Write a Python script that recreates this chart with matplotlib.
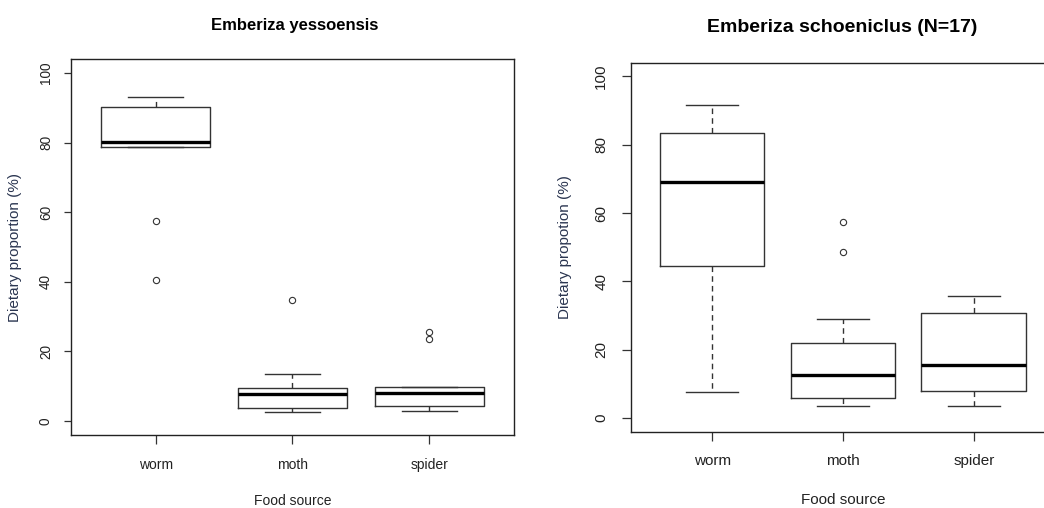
import matplotlib
matplotlib.use("Agg")
import matplotlib.pyplot as plt

# Data (dietary proportion, %)
categories = ["worm", "moth", "spider"]

# Emberiza yessoensis
yes_whislo = [78.7, 2.6, 3.0]
yes_q1 = [78.7, 3.7, 4.4]
yes_med = [80.2, 7.8, 8.0]
yes_q3 = [90.1, 9.4, 9.9]
yes_whishi = [93.0, 13.5, 9.9]
yes_fliers = [[57.6, 40.6], [34.7], [25.7, 23.6]]

# Emberiza schoeniclus (N=17)
sch_whislo = [7.7, 3.4, 3.6]
sch_q1 = [44.4, 6.0, 7.9]
sch_med = [69.2, 12.6, 15.4]
sch_q3 = [83.3, 22.0, 30.8]
sch_whishi = [91.6, 28.9, 35.6]
sch_fliers = [[], [57.4, 48.6], []]

yticks = [0, 20, 40, 60, 80, 100]

FONT = ["Liberation Sans", "DejaVu Sans"]
TXT = "#222222"
EDGE = "#333333"


def make_stats(whislo, q1, med, q3, whishi, fliers):
    return [dict(whislo=a, q1=b, med=c, q3=d, whishi=e, fliers=f, label=lab)
            for a, b, c, d, e, f, lab in zip(whislo, q1, med, q3, whishi,
                                              fliers, categories)]


def draw_panel(ax, stats, xfs, yfs, ylen, ypad, xlen, xpad):
    ax.bxp(stats, positions=[1, 2, 3], widths=0.8, patch_artist=False,
           boxprops=dict(color=EDGE, linewidth=1.0),
           whiskerprops=dict(color=EDGE, linewidth=1.0, linestyle=(0, (4, 3))),
           capprops=dict(color=EDGE, linewidth=1.0),
           medianprops=dict(color="black", linewidth=2.4),
           flierprops=dict(marker="o", markersize=4.5, markerfacecolor="none",
                           markeredgecolor=EDGE, markeredgewidth=0.8))
    ax.set_xlim(0.38, 3.62)
    ax.set_ylim(-4, 104)
    ax.set_yticks(yticks)
    ax.set_xticks([1, 2, 3])
    ax.set_xticklabels(categories, family=FONT, fontsize=xfs, color=TXT)
    ax.set_yticklabels([str(v) for v in yticks], family=FONT, fontsize=yfs,
                       color=TXT, rotation=90, va="center")
    ax.tick_params(axis="y", length=ylen, pad=ypad, width=0.9, color=EDGE)
    ax.tick_params(axis="x", length=xlen, pad=xpad, width=0.9, color=EDGE)
    for sp in ax.spines.values():
        sp.set_linewidth(1.0)
        sp.set_color("#222222")


fig = plt.figure(figsize=(10.44, 5.08), dpi=100)

# Left panel (text in this panel is narrower in the reference)
ax1 = fig.add_axes([0.0680, 0.1437, 0.4243, 0.7402])
draw_panel(ax1, make_stats(yes_whislo, yes_q1, yes_med, yes_q3, yes_whishi,
                           yes_fliers),
           10, 9.8, 5.0, 8.0, 6.5, 10.2)
fig.text(295 / 1044, 1 - 30 / 508, "Emberiza yessoensis", family=FONT,
         fontsize=12, fontweight="bold", ha="center", va="baseline",
         color="black")
fig.text(293 / 1044, 1 - 505 / 508, "Food source", family=FONT,
         fontsize=10, ha="center", va="baseline", color=TXT)
fig.text(15 / 1044, 1 - 247 / 508, "Dietary proportion (%)", family=FONT,
         fontsize=11, ha="center", va="center", rotation=90, color="#2a3550")

# Right panel (right edge runs past the figure, as in the reference)
ax2 = fig.add_axes([0.6044, 0.1502, 0.4061, 0.7264])
draw_panel(ax2, make_stats(sch_whislo, sch_q1, sch_med, sch_q3, sch_whishi,
                           sch_fliers),
           11, 11, 6.3, 10.0, 6.5, 9.4)
fig.text(842 / 1044, 1 - 32.3 / 508, "Emberiza schoeniclus (N=17)",
         family=FONT, fontsize=14, fontweight="bold", ha="center",
         va="baseline", color="black")
fig.text(843 / 1044, 1 - 504 / 508, "Food source", family=FONT,
         fontsize=11, ha="center", va="baseline", color=TXT)
fig.text(565.5 / 1044, 1 - 247 / 508, "Dietary propotion (%)", family=FONT,
         fontsize=11, ha="center", va="center", rotation=90, color="#2a3550")

fig.savefig("out.png", dpi=100)
